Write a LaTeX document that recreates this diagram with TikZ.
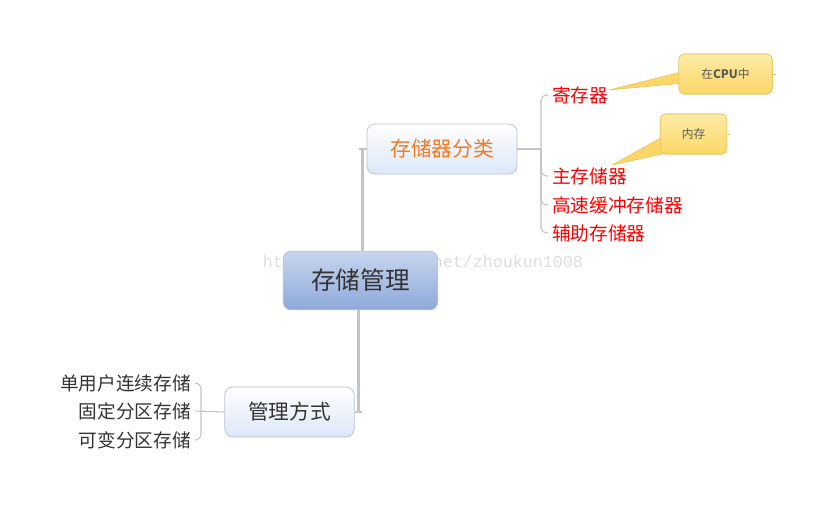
\documentclass[tikz,border=0pt]{standalone}
\usepackage{fontspec}
\setmainfont{Noto Sans CJK SC}
\newfontfamily\markfont{Liberation Mono}
\usepackage{xcolor}
\usetikzlibrary{positioning}
\definecolor{ink}{HTML}{333333}
\definecolor{roottop}{HTML}{C8D6EE}
\definecolor{rootbottom}{HTML}{8DA9DA}
\definecolor{rootline}{HTML}{B8C3D6}
\definecolor{branchbottom}{HTML}{DCE7F8}
\definecolor{branchline}{HTML}{BAC4D4}
\definecolor{catorange}{HTML}{F47A22}
\definecolor{leafred}{HTML}{FF0000}
\definecolor{linegrey}{HTML}{C4C4C4}
\definecolor{notetop}{HTML}{FEEBA6}
\definecolor{notebottom}{HTML}{FCD767}
\definecolor{noteline}{HTML}{E2C462}
\definecolor{notetext}{HTML}{5A5A5A}
\definecolor{markgrey}{HTML}{DDDDDD}
\tikzset{
    rootbox/.style={draw=rootline,line width=0.6pt,rounded corners=6pt,
      top color=roottop,bottom color=rootbottom,
      minimum width=116pt,minimum height=44pt,inner sep=2pt,
      text=ink,font=\fontsize{18.5}{20}\selectfont},
    branchbox/.style={draw=branchline,line width=0.6pt,rounded corners=6pt,
      top color=white,bottom color=branchbottom,
      minimum height=37.5pt,inner sep=2pt,font=\fontsize{15.5}{18}\selectfont},
    leafright/.style={anchor=west,inner xsep=3pt,inner ysep=1pt,
      text=leafred,font=\fontsize{14}{16}\selectfont},
    leafleft/.style={anchor=east,inner xsep=3pt,inner ysep=1pt,
      text=ink,font=\fontsize{14}{16}\selectfont},
    notebox/.style={draw=noteline,line width=0.5pt,rounded corners=4pt,
      top color=notetop,bottom color=notebottom,
      minimum height=30pt,inner sep=2pt,
      text=notetext,font=\fontsize{8.8}{10}\selectfont},
    notetail/.style={fill=notebottom,draw=noteline,line width=0.4pt,line join=round},
    trunk/.style={draw=linegrey,line width=2.2pt},
    twig/.style={draw=linegrey,line width=0.8pt,rounded corners=4pt}
}
\begin{document}
\begin{tikzpicture}[x=0.75pt,y=-0.75pt]
  \fill[white] (0,0) rectangle (828,504);
  \useasboundingbox (0,0) rectangle (828,504);
  % watermark
  \node[text=markgrey,font=\markfont\fontsize{12.5}{14}\selectfont] (mark) at (423,263) {http://blog.csdn.net/zhoukun1008};
  % main topics
  \node[rootbox] (root) at (360.5,280.5) {存储管理};
  \node[branchbox,minimum width=112.5pt,text=catorange] (cat) at (442,149) {存储器分类};
  \node[branchbox,minimum width=97pt,text=ink] (way) at (289.5,412) {管理方式};
  \draw[trunk] ([xshift=1.5pt]root.north) -- ([xshift=1.5pt]root.north |- cat.west) coordinate (upjoint);
  \draw[twig] ([xshift=-2.5pt]upjoint) -- (cat.west);
  \draw[trunk] ([xshift=-1.5pt]root.south) -- ([xshift=-1.5pt]root.south |- way.east) coordinate (downjoint);
  \draw[twig] (way.east) -- ([xshift=2.5pt]downjoint);
  % kinds of memory
  \node[leafright] (reg) at (548,95) {寄存器};
  \node[leafright] (mainmem) at (548,176) {主存储器};
  \node[leafright] (cache) at (548,205) {高速缓冲存储器};
  \node[leafright] (aux) at (548,233) {辅助存储器};
  \coordinate (rightfork) at (541,149);
  \draw[twig] (cat.east) -- (rightfork);
  \draw[twig] (reg.west) -| (rightfork) |- (aux.west);
  \draw[twig] (rightfork) |- (mainmem.west);
  \draw[twig] (rightfork) |- (cache.west);
  % notes
  \node[notebox,minimum width=70pt] (cpu) at (725.5,74) {在\textbf{CPU}中};
  \node[notebox,minimum width=50pt] (inmem) at (693.5,134) {内存};
  \coordinate (cputip) at (609,90);
  \coordinate (memtip) at (612,165);
  \draw[notetail] ([shift={(2pt,1.5pt)}]cpu.west) -- (cputip) -- ([shift={(2pt,-7pt)}]cpu.west);
  \draw[notetail] ([shift={(2pt,-2.2pt)}]inmem.west) -- (memtip) -- ([shift={(10,-2)}]inmem.south west);
  \node[notebox,minimum width=70pt] at (cpu) {在\textbf{CPU}中};
  \node[notebox,minimum width=50pt] at (inmem) {内存};
  \draw[noteline,line width=0.5pt] (cpu.east) -- ++(3,0);
  \draw[noteline,line width=0.5pt] (inmem.east) -- ++(3,0);
  % ways of management
  \node[leafleft] (single) at (195,383) {单用户连续存储};
  \node[leafleft] (fixed) at (195,411) {固定分区存储};
  \node[leafleft] (variable) at (195,440) {可变分区存储};
  \coordinate (leftfork) at (201,411);
  \draw[twig] (single.east) -| (leftfork) |- (variable.east);
  \draw[twig] (fixed.east) -- (way.west);
\end{tikzpicture}
\end{document}
